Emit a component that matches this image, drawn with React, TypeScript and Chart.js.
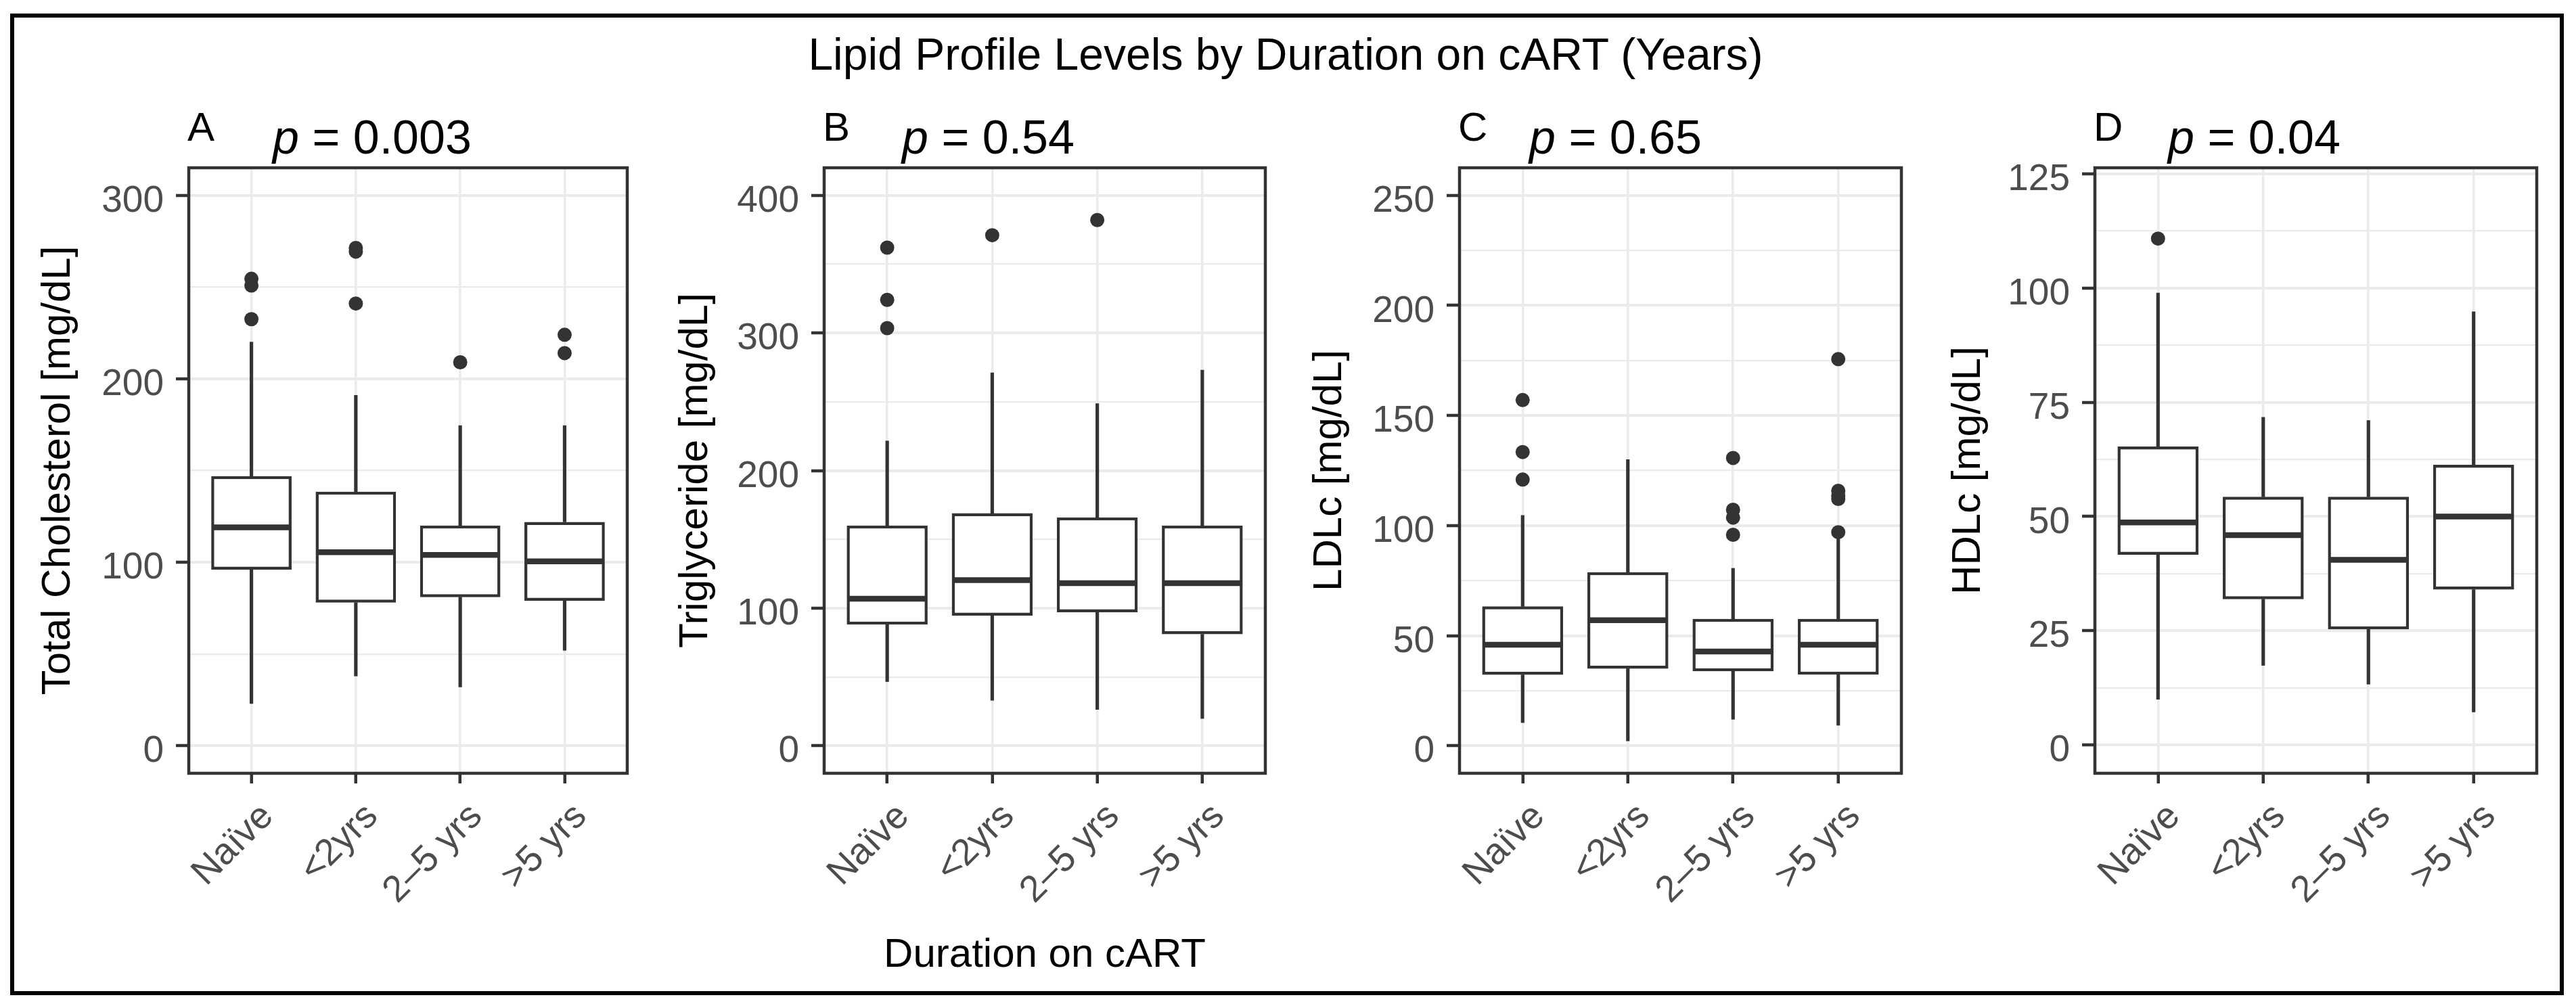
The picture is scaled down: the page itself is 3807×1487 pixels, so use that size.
import React, { useEffect, useRef } from 'react';
import { Chart, registerables } from 'chart.js';

Chart.register(...registerables);

const FAMILY = '"Liberation Sans", Arial, Helvetica, sans-serif';

const categories = ['Naïve', '<2yrs', '2–5 yrs', '>5 yrs'];

// Panel A: Total Cholesterol
const tcLow = [23, 38, 32, 52];
const tcQ1 = [96, 78, 81, 79];
const tcMedian = [119, 105.5, 104, 100.5];
const tcQ3 = [147, 138.5, 120, 122];
const tcHigh = [220, 191, 174.5, 174.5];
const tcOutliers = [[254.5, 250.8, 232.5], [271.3, 269.3, 241], [209], [224, 214]];
const tcMajorTicks = [0, 100, 200, 300];
const tcMinorTicks = [50, 150, 250];

// Panel B: Triglyceride
const tgLow = [46.6, 33, 26.4, 19.8];
const tgQ1 = [88, 94.5, 97, 81];
const tgMedian = [106.8, 120.4, 118.2, 118.2];
const tgQ3 = [160, 169, 166, 160];
const tgHigh = [221.5, 271, 248.6, 273];
const tgOutliers = [[362, 324, 303.5], [371], [382], []];
const tgMajorTicks = [0, 100, 200, 300, 400];
const tgMinorTicks = [50, 150, 250, 350];

// Panel C: LDLc
const ldlLow = [10.5, 2.2, 12, 9.3];
const ldlQ1 = [32.2, 35, 33.8, 32.3];
const ldlMedian = [45.9, 57, 42.8, 45.9];
const ldlQ3 = [63.3, 78.8, 57.6, 57.6];
const ldlHigh = [104.6, 130, 80.6, 94];
const ldlOutliers = [[157, 133.4, 120.9], [], [130.7, 107.2, 103.6, 95.8], [175.6, 115.8, 113.5, 112.1, 97]];
const ldlMajorTicks = [0, 50, 100, 150, 200, 250];
const ldlMinorTicks = [25, 75, 125, 175, 225];

// Panel D: HDLc
const hdlLow = [10, 17.4, 13.3, 7.2];
const hdlQ1 = [41.6, 31.9, 25.3, 34];
const hdlMedian = [48.7, 45.9, 40.5, 50];
const hdlQ3 = [65.3, 54.3, 54.3, 61.3];
const hdlHigh = [98.9, 71.7, 71, 94.8];
const hdlOutliers = [[110.8], [], [], []];
const hdlMajorTicks = [0, 25, 50, 75, 100, 125];
const hdlMinorTicks = [12.5, 37.5, 62.5, 87.5, 112.5];

const pValues = ['0.003', '0.54', '0.65', '0.04'];
const panelLetters = ['A', 'B', 'C', 'D'];
const yTitles = ['Total Cholesterol [mg/dL]', 'Triglyceride [mg/dL]', 'LDLc [mg/dL]', 'HDLc [mg/dL]'];
const xTitle = 'Duration on cART';
const mainTitle = 'Lipid Profile Levels by Duration on cART (Years)';

// Layout (pixels)
const CANVAS_TOP = 120;
const CANVAS_BOTTOM = 1460;
const PLOT_TOP = 248;
const PLOT_BOTTOM = 1143;
const Y_AXIS_W = 250;
const PAD_RIGHT = 30;

const panels = [
  { stats: [tcLow, tcQ1, tcMedian, tcQ3, tcHigh], outliers: tcOutliers, major: tcMajorTicks, minor: tcMinorTicks, yMin: -15, yMax: 315, plotLeft: 279, plotRight: 927, titlePad: 21, pOffset: 124, showX: false },
  { stats: [tgLow, tgQ1, tgMedian, tgQ3, tgHigh], outliers: tgOutliers, major: tgMajorTicks, minor: tgMinorTicks, yMin: -20, yMax: 420, plotLeft: 1218, plotRight: 1870, titlePad: 24, pOffset: 115, showX: true },
  { stats: [ldlLow, ldlQ1, ldlMedian, ldlQ3, ldlHigh], outliers: ldlOutliers, major: ldlMajorTicks, minor: ldlMinorTicks, yMin: -12.5, yMax: 262.5, plotLeft: 2157, plotRight: 2810, titlePad: 22, pOffset: 103, showX: false },
  { stats: [hdlLow, hdlQ1, hdlMedian, hdlQ3, hdlHigh], outliers: hdlOutliers, major: hdlMajorTicks, minor: hdlMinorTicks, yMin: -6.2, yMax: 126.3, plotLeft: 3096, plotRight: 3749, titlePad: 27, pOffset: 108, showX: false },
];

const panelTextPlugin = {
  id: 'panelText',
  afterDraw(chart: any, _args: any, opts: any) {
    const { ctx, chartArea } = chart;
    ctx.save();
    ctx.strokeStyle = '#333333';
    ctx.lineWidth = 4.5;
    ctx.strokeRect(chartArea.left, chartArea.top, chartArea.right - chartArea.left, chartArea.bottom - chartArea.top);
    ctx.fillStyle = '#000000';
    ctx.textAlign = 'left';
    ctx.textBaseline = 'alphabetic';
    ctx.font = `60px ${FAMILY}`;
    ctx.fillText(opts.letter, chartArea.left - 2, chartArea.top - 40);
    const x0 = chartArea.left + opts.pOffset;
    const yb = chartArea.top - 21;
    ctx.font = `italic 70px ${FAMILY}`;
    ctx.fillText('p', x0, yb);
    const w = ctx.measureText('p').width;
    ctx.font = `70px ${FAMILY}`;
    ctx.fillText(' = ' + opts.pValue, x0 + w, yb);
    ctx.restore();
  },
};

function buildConfig(idx: number): any {
  const p = panels[idx];
  const [low, q1, med, q3, high] = p.stats;
  const allTicks = [...p.major, ...p.minor].sort((a, b) => a - b);
  const isMajor = (v: number) => p.major.includes(v);
  const ink = '#333333';
  return {
    type: 'bar',
    data: {
      datasets: [
        {
          type: 'bar',
          data: categories.map((_, i) => ({ x: i, y: [low[i], q1[i]] })),
          backgroundColor: ink,
          borderWidth: 0,
          barThickness: 4.5,
          order: 4,
        },
        {
          type: 'bar',
          data: categories.map((_, i) => ({ x: i, y: [q3[i], high[i]] })),
          backgroundColor: ink,
          borderWidth: 0,
          barThickness: 4.5,
          order: 4,
        },
        {
          type: 'bar',
          data: categories.map((_, i) => ({ x: i, y: [q1[i], q3[i]] })),
          backgroundColor: '#FFFFFF',
          borderColor: ink,
          borderWidth: 4.5,
          borderSkipped: false,
          categoryPercentage: 1,
          barPercentage: 0.77,
          order: 3,
        },
        {
          type: 'scatter',
          data: categories.map((_, i) => ({ x: i, y: med[i] })),
          pointStyle: 'line',
          pointRadius: 57,
          pointHoverRadius: 57,
          pointBorderColor: ink,
          pointBorderWidth: 8.5,
          borderColor: ink,
          order: 2,
        },
        {
          type: 'scatter',
          data: p.outliers.flatMap((arr, i) => arr.map((v) => ({ x: i, y: v }))),
          pointStyle: 'circle',
          pointRadius: 10.5,
          pointBackgroundColor: ink,
          pointBorderWidth: 0,
          backgroundColor: ink,
          order: 1,
        },
      ],
    },
    options: {
      responsive: false,
      animation: false,
      devicePixelRatio: 1,
      events: [],
      layout: { autoPadding: false, padding: { top: PLOT_TOP - CANVAS_TOP, right: PAD_RIGHT, bottom: 0, left: 0 } },
      datasets: { bar: { grouped: false } },
      plugins: {
        legend: { display: false },
        tooltip: { enabled: false },
        title: { display: false },
        panelText: { letter: panelLetters[idx], pValue: pValues[idx], pOffset: p.pOffset },
      },
      scales: {
        x: {
          type: 'linear',
          offset: false,
          min: -0.6,
          max: 3.6,
          afterBuildTicks: (s: any) => {
            s.ticks = categories.map((_, i) => ({ value: i }));
          },
          afterFit: (s: any) => {
            s.height = CANVAS_BOTTOM - PLOT_BOTTOM;
            s.paddingLeft = 0;
            s.paddingRight = 0;
          },
          ticks: {
            autoSkip: false,
            minRotation: 45,
            maxRotation: 45,
            padding: 17,
            labelOffset: 24,
            color: '#4D4D4D',
            font: { family: FAMILY, size: 55 },
            callback: (v: number) => categories[v] ?? '',
          },
          grid: {
            offset: false,
            color: '#EBEBEB',
            lineWidth: 3.5,
            tickColor: ink,
            tickWidth: 4.5,
            tickLength: 15,
            drawTicks: true,
          },
          border: { display: false },
          title: {
            display: p.showX,
            text: xTitle,
            color: '#000000',
            font: { family: FAMILY, size: 60 },
            padding: { top: 0, bottom: 12 },
          },
        },
        y: {
          type: 'linear',
          min: p.yMin,
          max: p.yMax,
          beginAtZero: false,
          afterBuildTicks: (s: any) => {
            s.ticks = allTicks.map((v) => ({ value: v }));
          },
          afterFit: (s: any) => {
            s.width = Y_AXIS_W;
          },
          ticks: {
            autoSkip: false,
            padding: 18,
            labelOffset: 9,
            color: '#4D4D4D',
            font: { family: FAMILY, size: 55 },
            callback: (v: number) => (isMajor(v) ? String(v) : ''),
          },
          grid: {
            color: '#EBEBEB',
            lineWidth: (ctx: any) => (ctx.tick && isMajor(ctx.tick.value) ? 4 : 2.2),
            tickColor: (ctx: any) => (ctx.tick && isMajor(ctx.tick.value) ? ink : 'rgba(0,0,0,0)'),
            tickWidth: 4.5,
            tickLength: 19,
          },
          border: { display: false },
          title: {
            display: true,
            text: yTitles[idx],
            color: '#000000',
            font: { family: FAMILY, size: 60 },
            padding: { top: p.titlePad, bottom: 0 },
          },
        },
      },
    },
    plugins: [panelTextPlugin],
  };
}

function Panel({ idx }: { idx: number }) {
  const ref = useRef<HTMLCanvasElement>(null);
  const p = panels[idx];
  const left = p.plotLeft - Y_AXIS_W;
  const width = p.plotRight + PAD_RIGHT - left;
  const height = CANVAS_BOTTOM - CANVAS_TOP;
  useEffect(() => {
    const chart = new Chart(ref.current as HTMLCanvasElement, buildConfig(idx));
    return () => chart.destroy();
  }, [idx]);
  return (
    <canvas
      ref={ref}
      width={width}
      height={height}
      style={{ position: 'absolute', left, top: CANVAS_TOP, width, height, display: 'block' }}
    />
  );
}

export default function App() {
  return (
    <div style={{ position: 'absolute', left: 0, top: 0, width: 3807, height: 1487, background: '#FFFFFF', overflow: 'hidden' }}>
      <div
        style={{
          position: 'absolute',
          left: 15,
          top: 20,
          width: 3774,
          height: 1451,
          border: '6.5px solid #000000',
          boxSizing: 'border-box',
        }}
      />
      <div
        style={{
          position: 'absolute',
          left: 0,
          top: 47,
          width: 3800,
          textAlign: 'center',
          fontFamily: FAMILY,
          fontSize: 66,
          lineHeight: '66px',
          color: '#000000',
          whiteSpace: 'nowrap',
        }}
      >
        {mainTitle}
      </div>
      {panels.map((_, i) => (
        <Panel key={i} idx={i} />
      ))}
    </div>
  );
}
